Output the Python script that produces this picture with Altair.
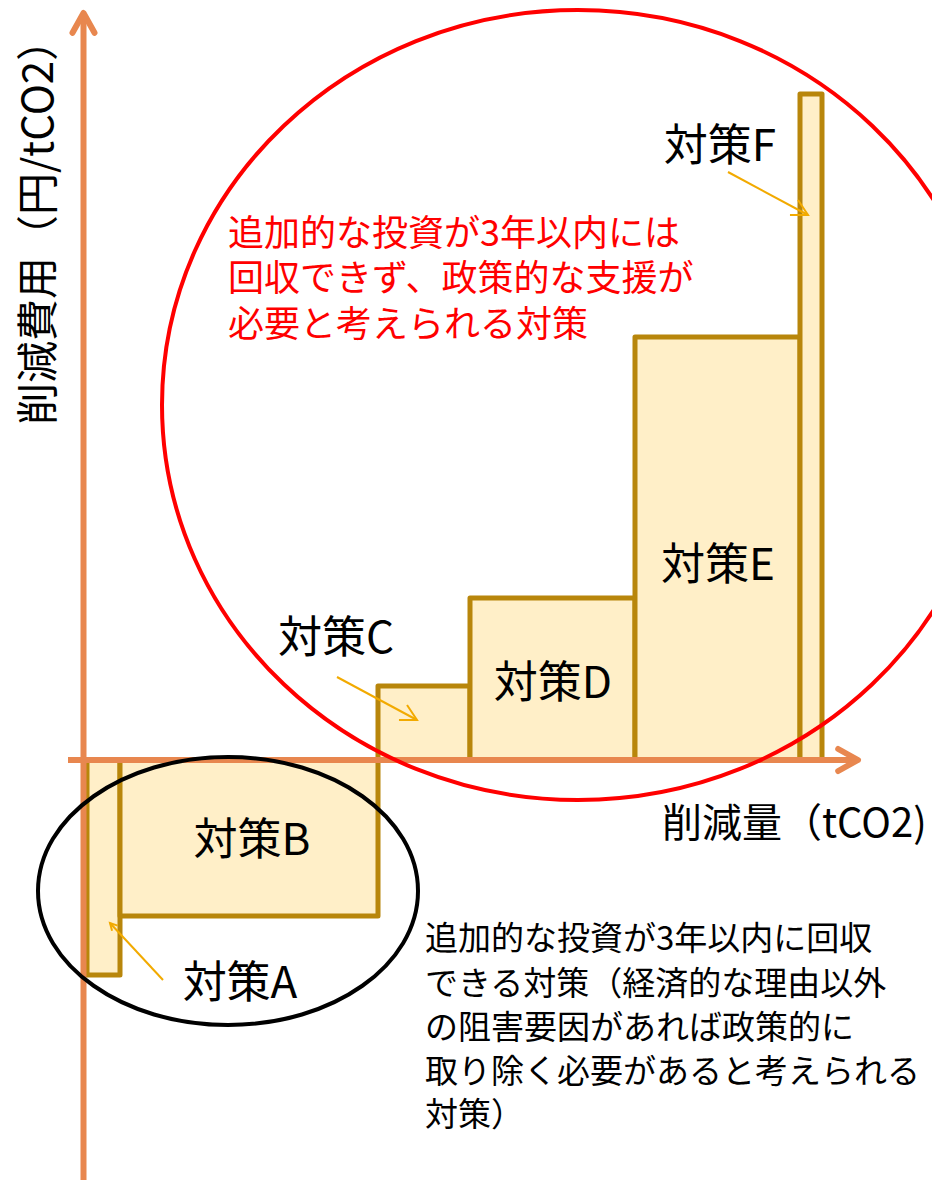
import math
import altair as alt
import pandas as pd

# ---- data (x: 削減量 units, y: 削減費用 units) ----
measures = ["対策A", "対策B", "対策C", "対策D", "対策E", "対策F"]
widths = [3.3, 25.8, 9.2, 16.5, 16.5, 2.2]
costs = [-21.5, -15.6, 7.4, 16.2, 42.3, 66.6]

label_x = [15.3, 16.5, 24.9, 46.6, 63.1, 63.3]
label_y = [-22.5, -8.2, 12.0, 7.5, 19.3, 61.2]

red_lines = ["追加的な投資が3年以内には", "回収できず、政策的な支援が", "必要と考えられる対策"]
red_y = [52.5, 48.0, 43.4]
red_x = 14.1

note_lines = ["追加的な投資が3年以内に回収", "できる対策（経済的な理由以外",
              "の阻害要因があれば政策的に", "取り除く必要があると考えられる", "対策）"]
note_y = [-18.0, -22.5, -26.9, -31.3, -35.6]
note_x = 33.8

y_title = "削減費用（円/tCO2）"
x_title = "削減量（tCO2)"

# callout arrows: start (x, y) -> tip (x, y)
arrow_from_x = [7.6, 25.0, 64.1]
arrow_from_y = [-22.0, 8.3, 58.8]
arrow_to_x = [2.3, 33.0, 72.1]
arrow_to_y = [-16.3, 4.0, 54.5]
arrow_head = [58, 289, 289]

# ellipses: center x, center y, rx, ry (in units)
ell_cx = [49.1, 14.1]
ell_cy = [35.5, -13.1]
ell_rx = [41.6, 19.0]
ell_ry = [39.5, 13.4]
ell_color = ["#FF0000", "#000000"]

# ---- scales ----
XS = alt.Scale(domain=[-7.9, 84.5], nice=False, zero=False)
YS = alt.Scale(domain=[-42.0, 75.2], nice=False, zero=False)
PX = 10.0  # pixels per unit

FONT = "Noto Sans CJK JP"
AXIS_COLOR = "#E8874F"
BAR_FILL = "#FFEFC8"
BAR_STROKE = "#B8860B"
ARROW_COLOR = "#F2AA00"

starts = []
acc = 0.0
for w in widths:
    starts.append(acc)
    acc += w
bars = pd.DataFrame({
    "m": measures,
    "x0": starts,
    "x1": [s + w for s, w in zip(starts, widths)],
    "y0": [0.0] * len(costs),
    "y1": costs,
})

bar_layer = alt.Chart(bars).mark_rect(
    fill=BAR_FILL, stroke=BAR_STROKE, strokeWidth=5, strokeJoin="round"
).encode(
    x=alt.X("x0:Q", scale=XS, axis=None), x2="x1:Q",
    y=alt.Y("y0:Q", scale=YS, axis=None), y2="y1:Q",
)

# axes
axes_df = pd.DataFrame({"x0": [-0.35, -1.9], "x1": [-0.35, 77.1],
                        "y0": [-42.8, 0.0], "y1": [74.7, 0.0]})
axis_rules = alt.Chart(axes_df).mark_rule(
    color=AXIS_COLOR, strokeWidth=6, strokeCap="butt"
).encode(
    x=alt.X("x0:Q", scale=XS, axis=None), x2="x1:Q",
    y=alt.Y("y0:Q", scale=YS, axis=None), y2="y1:Q",
)
axis_heads_df = pd.DataFrame({"x": [-0.35, 77.1], "y": [74.7, 0.0], "a": [0, 90]})
axis_heads = alt.Chart(axis_heads_df).mark_point(
    shape="M-1,1.8L0,0L1,1.8", size=484, filled=False, stroke=AXIS_COLOR,
    strokeWidth=6, strokeCap="round", strokeJoin="round", opacity=1
).encode(
    x=alt.X("x:Q", scale=XS, axis=None),
    y=alt.Y("y:Q", scale=YS, axis=None),
    angle=alt.Angle("a:Q", scale=None),
)

# ellipses
def ellipse_path(r):
    k = 0.5523
    return (f"M1,0 C1,{k*r:.4f} {k:.4f},{r:.4f} 0,{r:.4f} "
            f"C{-k:.4f},{r:.4f} -1,{k*r:.4f} -1,0 "
            f"C-1,{-k*r:.4f} {-k:.4f},{-r:.4f} 0,{-r:.4f} "
            f"C{k:.4f},{-r:.4f} 1,{-k*r:.4f} 1,0 Z")

ell_layers = []
for cx, cy, rx, ry, col in zip(ell_cx, ell_cy, ell_rx, ell_ry, ell_color):
    d = pd.DataFrame({"x": [cx], "y": [cy]})
    ell_layers.append(
        alt.Chart(d).mark_point(
            shape=ellipse_path(ry / rx), size=(2 * rx * PX) ** 2, filled=False,
            stroke=col, strokeWidth=4, opacity=1
        ).encode(
            x=alt.X("x:Q", scale=XS, axis=None),
            y=alt.Y("y:Q", scale=YS, axis=None),
        )
    )

# callout arrows
arr = pd.DataFrame({
    "x0": arrow_from_x, "y0": arrow_from_y, "x1": arrow_to_x, "y1": arrow_to_y,
    "s": arrow_head,
})
arr["a"] = [
    (math.degrees(math.atan2(x1 - x0, y1 - y0)) + 360) % 360
    for x0, y0, x1, y1 in zip(arrow_from_x, arrow_from_y, arrow_to_x, arrow_to_y)
]
arrow_shafts = alt.Chart(arr).mark_rule(color=ARROW_COLOR, strokeWidth=2).encode(
    x=alt.X("x0:Q", scale=XS, axis=None), x2="x1:Q",
    y=alt.Y("y0:Q", scale=YS, axis=None), y2="y1:Q",
)
arrow_heads = alt.Chart(arr).mark_point(
    shape="M-1,1.87L0,0L1,1.87", filled=False, stroke=ARROW_COLOR,
    strokeWidth=2, opacity=1
).encode(
    x=alt.X("x1:Q", scale=XS, axis=None),
    y=alt.Y("y1:Q", scale=YS, axis=None),
    angle=alt.Angle("a:Q", scale=None),
    size=alt.Size("s:Q", scale=None),
)

# labels
labels = alt.Chart(pd.DataFrame({"t": measures, "x": label_x, "y": label_y})).mark_text(
    font=FONT, fontSize=44, color="#000000", align="center", baseline="middle"
).encode(
    x=alt.X("x:Q", scale=XS, axis=None), y=alt.Y("y:Q", scale=YS, axis=None), text="t:N"
)

red_text = alt.Chart(pd.DataFrame({"t": red_lines, "y": red_y, "x": [red_x] * len(red_lines)})).mark_text(
    font=FONT, fontSize=36, color="#FF0000", align="left", baseline="middle"
).encode(
    x=alt.X("x:Q", scale=XS, axis=None), y=alt.Y("y:Q", scale=YS, axis=None), text="t:N"
)

note_text = alt.Chart(pd.DataFrame({"t": note_lines, "y": note_y, "x": [note_x] * len(note_lines)})).mark_text(
    font=FONT, fontSize=33, color="#000000", align="left", baseline="middle"
).encode(
    x=alt.X("x:Q", scale=XS, axis=None), y=alt.Y("y:Q", scale=YS, axis=None), text="t:N"
)

ytitle = alt.Chart(pd.DataFrame({"t": [y_title], "x": [-4.7], "y": [53.8]})).mark_text(
    font=FONT, fontSize=42, color="#000000", align="center", baseline="middle", angle=270
).encode(
    x=alt.X("x:Q", scale=XS, axis=None), y=alt.Y("y:Q", scale=YS, axis=None), text="t:N"
)

xtitle = alt.Chart(pd.DataFrame({"t": [x_title], "x": [57.5], "y": [-6.5]})).mark_text(
    font=FONT, fontSize=40, color="#000000", align="left", baseline="middle"
).encode(
    x=alt.X("x:Q", scale=XS, axis=None), y=alt.Y("y:Q", scale=YS, axis=None), text="t:N"
)

chart = alt.layer(
    bar_layer, axis_rules, axis_heads, *ell_layers, arrow_shafts, arrow_heads,
    labels, red_text, note_text, ytitle, xtitle
).properties(
    width=924, height=1172, padding=0,
    autosize=alt.AutoSizeParams(type="none"),
    background="#FFFFFF",
).configure_view(stroke=None)

chart.save("out.html", embed_options={"renderer": "svg", "actions": False})
